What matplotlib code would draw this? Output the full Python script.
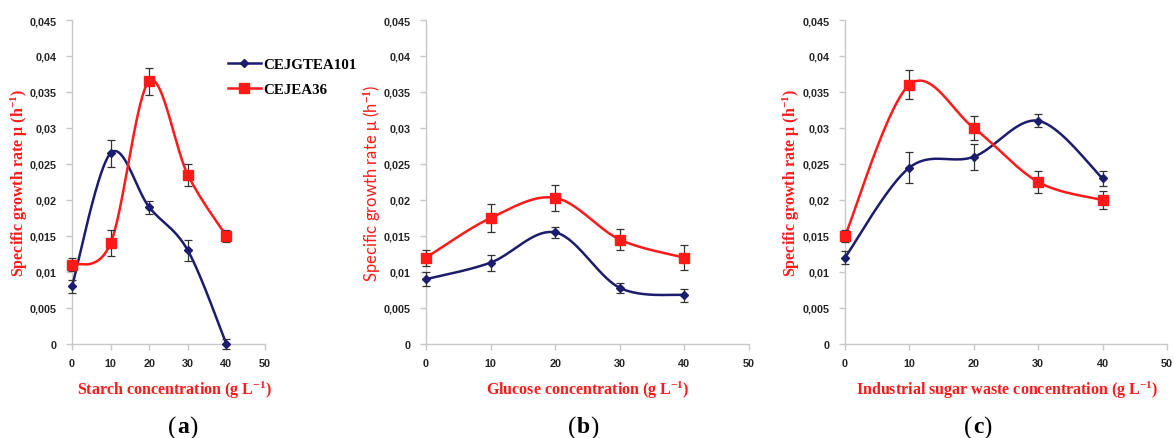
import numpy as np
import matplotlib
matplotlib.use("Agg")
import matplotlib.pyplot as plt
from matplotlib.lines import Line2D

plt.rcParams["mathtext.fontset"] = "custom"
plt.rcParams["mathtext.rm"] = "Liberation Serif:bold"
plt.rcParams["mathtext.bf"] = "Liberation Serif:bold"
plt.rcParams["mathtext.it"] = "Liberation Serif:bold"

# ---------------- data ----------------
conc = [0, 10, 20, 30, 40]
series_names = ["CEJGTEA101", "CEJEA36"]

a_blue = [0.008, 0.0265, 0.019, 0.013, 0.0]
a_blue_err = [0.0009, 0.0019, 0.0009, 0.0015, 0.0007]
a_red = [0.011, 0.014, 0.0365, 0.0235, 0.015]
a_red_err = [0.0009, 0.0018, 0.0019, 0.0015, 0.0009]

b_blue = [0.009, 0.0113, 0.0155, 0.0078, 0.0068]
b_blue_err = [0.001, 0.0011, 0.0008, 0.0007, 0.0009]
b_red = [0.012, 0.0175, 0.0203, 0.0145, 0.012]
b_red_err = [0.0011, 0.002, 0.0018, 0.0015, 0.0017]

c_blue = [0.012, 0.0245, 0.026, 0.031, 0.023]
c_blue_err = [0.0009, 0.0021, 0.0018, 0.0009, 0.001]
c_red = [0.015, 0.036, 0.030, 0.0225, 0.020]
c_red_err = [0.0009, 0.002, 0.0016, 0.0015, 0.0012]

x_labels = ["Starch concentration (g L$^{-1}$)",
            "Glucose concentration (g L$^{-1}$)",
            "Industrial sugar waste concentration (g L$^{-1}$)"]
y_label = "Specific growth rate \u03bc (h$^{-1}$)"
panel_letters = ["a", "b", "c"]

y_ticks = [0, 0.005, 0.01, 0.015, 0.02, 0.025, 0.03, 0.035, 0.04, 0.045]
y_tick_labels = ["0", "0,005", "0,01", "0,015", "0,02", "0,025", "0,03", "0,035", "0,04", "0,045"]
x_ticks = [0, 10, 20, 30, 40, 50]

BLUE = "#1c1c6e"
RED = "#ff1a1a"
AXC = "#c8c8c8"
SERIF = ["Liberation Serif", "DejaVu Serif"]


def catmull_rom(xs, ys, n=40):
    P = np.column_stack([xs, ys]).astype(float)
    P = np.vstack([P[0], P, P[-1]])
    out = []
    for i in range(1, len(P) - 2):
        p0, p1, p2, p3 = P[i - 1], P[i], P[i + 1], P[i + 2]
        c1 = p1 + (p2 - p0) / 6.0
        c2 = p2 - (p3 - p1) / 6.0
        t = np.linspace(0, 1, n)[:, None]
        seg = ((1 - t) ** 3) * p1 + 3 * ((1 - t) ** 2) * t * c1 + 3 * (1 - t) * t ** 2 * c2 + t ** 3 * p2
        out.append(seg if i == 1 else seg[1:])
    out = np.vstack(out)
    return out[:, 0], out[:, 1]


fig = plt.figure(figsize=(11.74, 4.39), dpi=100)

W, H = 1174.0, 439.0
ax_px = [(72, 265), (426, 749), (845, 1167)]
top_px, bot_px = 21, 345
ylab_x = [19, 372, 791]
xlab_cx = [174, 588, 1007]
panel_cx = [183, 583, 978]

datasets = [
    (a_blue, a_blue_err, a_red, a_red_err),
    (b_blue, b_blue_err, b_red, b_red_err),
    (c_blue, c_blue_err, c_red, c_red_err),
]

letter_texts = []
for k in range(3):
    l, r = ax_px[k]
    ax = fig.add_axes([l / W, 1 - bot_px / H, (r - l) / W, (bot_px - top_px) / H])
    bl, ble, rd, rde = datasets[k]
    for vals, errs, col, mk, ms in [(bl, ble, BLUE, "D", 4.5), (rd, rde, RED, "s", 7.5)]:
        sx, sy = catmull_rom(conc, vals)
        ax.plot(sx, sy, color=col, lw=1.8, zorder=3, solid_capstyle="round", clip_on=False)
        ax.errorbar(conc, vals, yerr=errs, fmt="none", ecolor="#333333",
                    elinewidth=0.9, capsize=3, capthick=0.9, zorder=4, clip_on=False)
        ax.plot(conc, vals, linestyle="none", marker=mk, ms=ms, color=col,
                markeredgecolor=col, zorder=5, clip_on=False)
    ax.set_xlim(0, 50)
    ax.set_ylim(0, 0.045)
    ax.set_xticks(x_ticks)
    ax.set_xticklabels([str(t) for t in x_ticks])
    ax.set_yticks(y_ticks)
    ax.set_yticklabels(y_tick_labels)
    for s in ["top", "right"]:
        ax.spines[s].set_visible(False)
    for s in ["left", "bottom"]:
        ax.spines[s].set_color(AXC)
        ax.spines[s].set_linewidth(1.0)
    ax.tick_params(axis="both", colors=AXC, length=4, width=1.0, direction="out")
    ax.tick_params(axis="y", pad=7)
    ax.tick_params(axis="x", pad=6)
    for lab in ax.get_xticklabels() + ax.get_yticklabels():
        lab.set_color("#262626")
        lab.set_fontfamily("Liberation Sans")
        lab.set_fontweight("bold")
        lab.set_fontsize(7.8)

    # y label
    yc = 1 - (top_px + bot_px) / 2 / H
    if k == 1:
        fig.text(ylab_x[k] / W, yc, y_label, rotation=90, ha="center", va="center",
                 color=RED, fontsize=12, family=["Lato", "DejaVu Sans"])
    else:
        fig.text(ylab_x[k] / W, yc, y_label, rotation=90, ha="center", va="center",
                 color=RED, fontsize=11.5, fontweight="bold", family=SERIF)
    # x label
    fig.text(xlab_cx[k] / W, 1 - 390 / H, x_labels[k], ha="center", va="center",
             color=RED, fontsize=11.5, fontweight="bold", family=SERIF)
    # panel label
    lt = fig.text(panel_cx[k] / W, 1 - 428 / H, panel_letters[k], ha="center", va="center",
                  fontsize=17, fontweight="bold", family=SERIF, color="black")
    letter_texts.append(lt)

    if k == 0:
        handles = [Line2D([], [], color=BLUE, lw=1.8, marker="D", ms=4.5),
                   Line2D([], [], color=RED, lw=1.8, marker="s", ms=7.5)]
        fig.legend(handles, series_names, loc="upper left",
                   bbox_to_anchor=(214 / W, 1 - 45 / H), frameon=False,
                   handlelength=2.2, handletextpad=0.15, labelspacing=0.75,
                   prop={"family": SERIF, "weight": "bold", "size": 10.8})

# parentheses around panel letters
fig.canvas.draw()
rend = fig.canvas.get_renderer()
for lt in letter_texts:
    bb = lt.get_window_extent(rend)
    yy = lt.get_position()[1]
    fig.text((bb.x0 - 0.5) / W, yy, "(", ha="right", va="center",
             fontsize=18, family=SERIF, color="black")
    fig.text((bb.x1 + 0.5) / W, yy, ")", ha="left", va="center",
             fontsize=18, family=SERIF, color="black")

fig.savefig("out.png", dpi=100)
